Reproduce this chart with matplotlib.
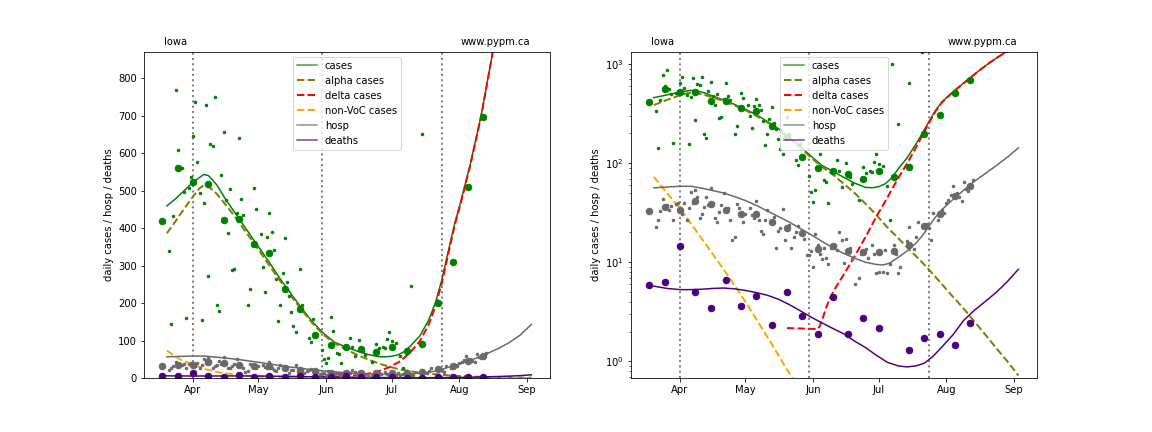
import numpy as np
import matplotlib
matplotlib.use('Agg')
import matplotlib.pyplot as plt
import matplotlib.dates as mdates

# days are counted from 2021-04-01
t0 = np.datetime64('2021-04-01')

breaks = ['2021-04-01', '2021-05-30', '2021-07-24']

# model curves
cases_mday = [-12, -8, -4, 0, 3, 5, 7, 9, 11, 15, 20, 25, 30, 35, 40, 45, 50, 55, 60, 65, 70, 75, 80, 85, 88,
              91, 94, 97, 100, 104, 108, 111, 114, 117, 120, 123, 127, 132, 137, 142, 147, 152, 155]
cases_model = [459, 478, 500, 522, 535, 543, 540, 528, 514, 476, 434, 392, 350, 308, 264, 224, 184, 148, 118, 95,
               83, 72, 63, 57, 56.5, 58, 62, 71, 88, 113, 155, 200, 262, 340, 415, 478, 570, 700, 860, 1040,
               1230, 1440, 1580]

alpha_mday = [-12, -8, -4, 0, 3, 5, 7, 10, 15, 20, 25, 30, 35, 40, 45, 50, 55, 60, 65, 70, 75, 80, 85, 90, 95,
              100, 105, 110, 115, 120, 125, 130, 135, 140, 145, 150, 155]
alpha_model = [386, 418, 452, 484, 506, 514, 511, 497, 462, 424, 383, 342, 300, 258, 218, 180, 144, 114, 92, 77,
               62, 50, 39, 30, 22.5, 17.5, 13.5, 10.5, 8.0, 6.0, 4.5, 3.4, 2.5, 1.85, 1.35, 1.0, 0.72]

delta_mday = [49, 55, 60, 63, 64, 65, 66, 67, 69, 72, 75, 80, 85, 90, 95, 100, 104, 108, 111, 114, 117, 120, 123,
              127, 132, 137, 142, 147, 152, 155]
delta_model = [2.17, 2.15, 2.13, 2.12, 2.25, 2.6, 3.0, 3.5, 4.5, 5.9, 7.5, 11.5, 18, 29, 45, 71, 99, 143, 190, 254,
               333, 410, 474, 567, 698, 859, 1039, 1229, 1439, 1579]

nonvoc_mday = [-12, -6, 0, 6, 12, 18, 24, 30, 36, 42, 48, 54, 60, 70, 80, 90, 100, 110, 120, 130, 140, 155]
nonvoc_model = [73, 50, 35, 23, 15, 9.8, 6.3, 4.0, 2.45, 1.5, 0.9, 0.55, 0.32, 0.14, 0.06, 0.026, 0.011, 0.005,
                0.002, 0.001, 0.0004, 0.0001]

hosp_mday = [-12, -6, 0, 5, 10, 15, 20, 25, 30, 35, 40, 45, 50, 55, 60, 65, 70, 75, 80, 85, 90, 93, 96, 100, 104,
             108, 111, 114, 117, 120, 125, 130, 135, 140, 145, 150, 155]
hosp_model = [56.5, 57.5, 58.5, 58.5, 56, 53, 50, 46, 42, 37.5, 33, 29, 25.5, 22, 19, 16.3, 14, 12.3, 11, 10, 9.5,
              9.4, 9.8, 11.2, 13, 15.5, 18.5, 23, 28.5, 34, 43, 53.5, 66, 79, 95, 115, 143]

deaths_mday = [-12, -6, 0, 5, 10, 15, 20, 25, 30, 35, 40, 45, 50, 55, 60, 65, 70, 75, 80, 85, 90, 95, 100, 104,
               108, 112, 116, 120, 125, 130, 135, 140, 145, 150, 155]
deaths_model = [5.75, 5.45, 5.3, 5.3, 5.35, 5.45, 5.5, 5.4, 5.2, 4.95, 4.65, 4.25, 3.75, 3.25, 2.8, 2.45, 2.15, 1.9,
                1.6, 1.38, 1.15, 0.98, 0.9, 0.88, 0.9, 0.96, 1.13, 1.4, 1.85, 2.6, 3.3, 4.05, 5.0, 6.4, 8.5]

# weekly data
week_day = [-14, -7, 0, 7, 14, 21, 28, 35, 42, 49, 56, 63, 70, 77, 84, 91, 98, 105, 112, 119, 126, 133]
cases_week = [419, 560, 523, 518, 422, 424, 357, 333, 237, 185, 115, 89, 84, 77, 69, 83, 72, 92, 199, 309, 510, 695]
hosp_week = [33, 36, 34, 41.5, 39, 34, 31, 31, 25.5, 22, 19.8, 13.7, 14.5, 13, 12.7, 12.7, 13, 15, 23, 31, 46.5, 59]
deaths_week = [5.9, 6.3, 14.5, 5.0, 3.45, 6.7, 3.65, 4.6, 2.35, 5.0, 2.9, 1.9, 4.5, 1.9, 2.75, 2.17, 0, 1.3, 1.72,
               1.9, 1.46, 2.45]

# daily data
case_day = [-11, -10, -9, -8, -7, -6, -5, -4, -3, -2, -1, 0, 1, 2, 3, 4, 5, 6, 7, 8, 9, 10, 11, 12, 13, 14, 15, 16,
            17, 18, 19, 20, 21, 22, 23, 25, 26, 28, 29, 31, 32, 33, 34, 35, 36, 37, 38, 39, 40, 41, 42, 43, 44, 45,
            46, 47, 49, 50, 53, 54, 55, 59, 60, 61, 62, 63, 64, 66, 67, 68, 72, 73, 74, 76, 78, 79, 82, 84, 85, 87,
            88, 89, 90, 91, 93, 95, 96, 97, 100, 105, 111]
case_daily = [339, 144, 432, 768, 608, 876, 560, 496, 160, 506, 536, 645, 737, 577, 493, 155, 467, 728, 272, 624,
              619, 749, 195, 179, 541, 656, 476, 387, 504, 288, 291, 440, 640, 477, 435, 195, 237, 507, 451, 384,
              297, 229, 376, 440, 389, 342, 264, 152, 195, 280, 373, 256, 219, 176, 138, 123, 291, 195, 108, 95,
              157, 75, 51, 41, 54, 163, 125, 67, 64, 40, 107, 84, 58, 101, 73, 62, 43, 91, 80, 83, 81, 104, 123,
              98, 93, 59, 27, 1000, 246, 651, 1310]

hosp_day = [-11, -10, -9, -8, -7, -6, -5, -4, -3, -2, -1, 1, 2, 3, 4, 5, 6, 7, 8, 9, 10, 11, 12, 13, 14, 15, 16, 17,
            18, 19, 20, 22, 23, 24, 25, 26, 27, 29, 30, 32, 33, 34, 35, 36, 37, 38, 39, 40, 43, 44, 45, 46, 47, 48,
            50, 51, 52, 53, 54, 57, 58, 59, 60, 61, 62, 63, 64, 65, 66, 67, 68, 69, 71, 72, 73, 74, 75, 76, 78, 79,
            80, 82, 83, 85, 86, 88, 89, 90, 91, 93, 94, 95, 96, 98, 99, 100, 101, 104, 105, 107, 108, 109, 113,
            114, 115, 116, 118, 120, 121, 122, 123, 124, 125, 127, 128, 129, 130, 131, 132, 134]
hosp_daily = [22.5, 26.7, 33, 44, 36, 38, 34, 37, 27, 38.6, 39.8, 31, 40, 26.7, 35, 51.5, 40, 53.6, 45.8, 27.7, 31,
              36, 45.8, 38, 55.7, 40, 27.7, 25.6, 32.4, 37.8, 49.7, 35, 26.7, 16.7, 17.8, 38.6, 35, 25.4, 31, 35,
              30, 28, 41.8, 26.7, 20.8, 19.5, 27, 34, 28.8, 13.8, 20.7, 22, 34.2, 16.7, 24, 13.8, 18, 20.3, 23, 17,
              11.8, 11.8, 13.1, 9, 19.5, 15, 12, 10.9, 13.8, 11.1, 9.7, 14, 15, 13.3, 20.3, 16.7, 9.9, 17, 13.8,
              10.9, 6, 6.9, 12, 13.5, 11, 15.1, 12, 7.8, 8, 8, 13.3, 7.8, 9.7, 15, 12, 7.8, 9, 16.4, 22.5, 13.7,
              17.8, 25.4, 24.5, 22.4, 16.7, 31.5, 26.7, 34, 31.5, 39.3, 42.5, 48, 58.7, 49.7, 45.2, 41.8, 64, 55,
              53, 67]


def dates(days):
    return t0 + np.array(days, dtype='timedelta64[D]')


def draw(ax):
    for b in breaks:
        ax.axvline(np.datetime64(b), color='grey', ls=':', lw=2)
    ax.plot(dates(cases_mday), cases_model, color='green', lw=1.5, label='cases')
    ax.plot(dates(alpha_mday), alpha_model, color='olive', ls='--', lw=2, label='alpha cases')
    ax.plot(dates(delta_mday), delta_model, color='red', ls='--', lw=2, label='delta cases')
    ax.plot(dates(nonvoc_mday), nonvoc_model, color='orange', ls='--', lw=2, label='non-VoC cases')
    ax.plot(dates(hosp_mday), hosp_model, color='dimgrey', lw=1.5, label='hosp')
    ax.plot(dates(deaths_mday), deaths_model, color='indigo', lw=1.5, label='deaths')

    ax.plot(dates(case_day), case_daily, 'o', color='green', ms=2.5)
    ax.plot(dates(week_day), cases_week, 'o', color='green', ms=6.5)
    ax.plot(dates(hosp_day), hosp_daily, 'o', color='dimgrey', ms=2.5)
    ax.plot(dates(week_day), hosp_week, 'o', color='dimgrey', ms=6.5)
    ax.plot(dates(week_day), deaths_week, 'o', color='indigo', ms=6.5)

    leg = ax.legend(loc='upper center')
    for h in leg.legend_handles:
        if h.get_linestyle() == '-':
            h.set_alpha(0.75)
    ax.xaxis.set_major_locator(mdates.MonthLocator())
    ax.xaxis.set_major_formatter(mdates.DateFormatter('%b'))
    ax.set_ylabel('daily cases / hosp / deaths')
    ax.text(0.05, 1.02, 'Iowa', transform=ax.transAxes)
    ax.text(0.78, 1.02, 'www.pypm.ca', transform=ax.transAxes)


fig = plt.figure(figsize=(16, 6))
plt.subplots_adjust(left=0.125, right=0.9, top=0.88, bottom=0.125, wspace=0.2)

ax1 = plt.subplot(1, 2, 1)
draw(ax1)
ax1.set_ylim(0, 870)

ax2 = plt.subplot(1, 2, 2)
ax2.set_yscale('log', nonpositive='mask')
draw(ax2)
ax2.set_ylim(0.68, 1330)

plt.savefig('out.png', dpi=72)
